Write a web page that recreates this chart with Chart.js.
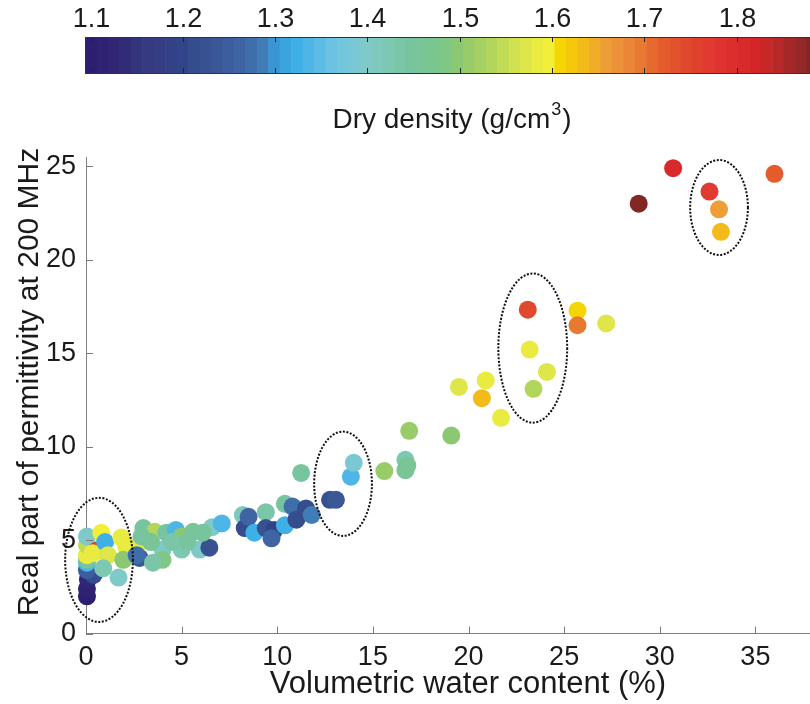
<!DOCTYPE html>
<html>
<head>
<meta charset="utf-8">
<script src="https://cdn.jsdelivr.net/npm/chart.js@4"></script>
<style>
  html, body { margin: 0; padding: 0; background: #fff; overflow: hidden; }
  #wrap { width: 860px; height: 704px; }
</style>
</head>
<body>
<div id="wrap"><canvas id="chart" width="860" height="704"></canvas></div>
<script>
// Permittivity vs water content, coloured by dry density

// volumetric water content (%)
const waterContent = [
  0.05, 0.05, 0.1, 0.4, 0.05, 0.05, 0.05, 0.05, 0.05, 0.05,
  0.55, 0.35, 0.8, 1.0, 1.15, 0.9, 1.7, 1.85, 2.1, 1.95, 2.65,
  2.8, 2.65, 3.0, 3.6, 4.0, 4.0, 3.5, 4.2, 4.7, 5.0,
  5.0, 5.6, 5.95, 6.6, 7.1, 6.45, 6.1, 3.4, 4.5, 5.3, 2.9,
  8.2, 8.3, 8.5, 8.8, 9.4, 9.4, 9.85, 9.7, 10.4, 10.8,
  10.4, 11.0, 11.5, 11.8, 11.25, 12.76, 13.07, 13.85, 14.0, 15.6,
  16.7, 16.8, 16.7, 16.9, 19.1, 19.5, 20.9, 20.7, 21.7, 23.1,
  23.2, 24.1, 23.4, 25.7, 25.7, 27.2, 28.9, 30.7, 32.6, 33.1,
  33.2, 36.0
];
// real part of permittivity at 200 MHz
const permittivity = [
  2.0, 2.4, 2.9, 3.15, 3.4, 3.8, 3.95, 4.2, 4.75, 5.2,
  4.45, 4.3, 5.4, 4.9, 4.2, 3.5, 3.0, 5.15, 4.65, 3.95, 4.65,
  4.05, 4.2, 5.65, 5.45, 4.5, 3.95, 3.8, 5.4, 5.55, 5.2,
  4.5, 5.45, 4.5, 5.7, 5.9, 4.6, 5.4, 4.9, 4.9, 4.9, 5.2,
  6.35, 5.65, 6.25, 5.4, 6.5, 5.65, 5.55, 5.1, 6.95, 6.8,
  5.8, 6.1, 6.7, 6.35, 8.6, 7.16, 7.16, 8.4, 9.14, 8.7,
  9.3, 9.0, 8.75, 10.85, 10.6, 13.2, 13.55, 12.6, 11.55, 17.33,
  15.2, 14.0, 13.1, 17.28, 16.5, 16.6, 23.0, 24.9, 23.65, 22.7,
  21.5, 24.6
];
// dry density (g/cm3)
const dryDensity = [
  1.10, 1.11, 1.12, 1.21, 1.25, 1.33, 1.45, 1.58, 1.55, 1.40,
  1.76, 1.585, 1.60, 1.32, 1.57, 1.42, 1.40, 1.59, 1.58, 1.50, 1.58,
  1.24, 1.28, 1.45, 1.53, 1.40, 1.49, 1.44, 1.45, 1.33, 1.50,
  1.42, 1.46, 1.40, 1.40, 1.33, 1.23, 1.45, 1.46, 1.43, 1.45, 1.45,
  1.41, 1.21, 1.26, 1.32, 1.44, 1.22, 1.19, 1.26, 1.45, 1.27,
  1.32, 1.21, 1.21, 1.29, 1.45, 1.23, 1.24, 1.34, 1.39, 1.51,
  1.42, 1.46, 1.46, 1.51, 1.50, 1.57, 1.585, 1.63, 1.59, 1.74,
  1.59, 1.57, 1.53, 1.61, 1.69, 1.57, 1.88, 1.81, 1.77, 1.66,
  1.63, 1.72
];

const xTicks = [0, 5, 10, 15, 20, 25, 30, 35];
const yTicks = [0, 5, 10, 15, 20, 25];
const densityTicks = [1.1, 1.2, 1.3, 1.4, 1.5, 1.6, 1.7, 1.8];

// colormap stops (dry density -> colour)
const cmapStops = [1.094, 1.13, 1.16, 1.2, 1.22, 1.25, 1.27, 1.29, 1.30, 1.32, 1.34, 1.36, 1.38, 1.4, 1.42,
  1.45, 1.48, 1.5, 1.52, 1.54, 1.56, 1.58, 1.598, 1.602, 1.62, 1.64, 1.66, 1.68, 1.7, 1.72, 1.75, 1.78,
  1.8, 1.82, 1.84, 1.86, 1.888];
const cmapColors = ['#2c1c70', '#312876', '#363a80', '#32458a', '#37508f', '#3c5d9e', '#3f6aa8', '#4080b8',
  '#3a98d6', '#3aaee4', '#52b8e8', '#6ac2e2', '#78c8d8', '#80c9c6', '#7ec8b4', '#78c49c', '#7cc68a',
  '#8cc870', '#a2d062', '#b8d858', '#d2e150', '#e6ea44', '#f3ef38', '#f6dc00', '#f5c90a', '#f2b520',
  '#ee9c38', '#ea8a38', '#e8742e', '#e45c2c', '#e0462e', '#e03432', '#dc2c2c', '#d42628', '#c02828',
  '#a02828', '#7b2626'];
const cmapBands = 64;

// dotted ellipses around groups (data units)
const ellipseX = [0.68, 13.44, 23.36, 33.1];
const ellipseY = [3.95, 8.02, 15.28, 22.8];
const ellipseRx = [1.77, 1.51, 1.80, 1.51];
const ellipseRy = [3.32, 2.79, 3.99, 2.54];

const FONT = "'Liberation Sans', Arial, Helvetica, sans-serif";
const cbMin = cmapStops[0], cbMax = cmapStops[cmapStops.length - 1];

function hexRgb(h) {
  return [parseInt(h.slice(1, 3), 16), parseInt(h.slice(3, 5), 16), parseInt(h.slice(5, 7), 16)];
}

function cmapAt(d) {
  if (d <= cmapStops[0]) return cmapColors[0];
  for (let i = 1; i < cmapStops.length; i++) {
    if (d <= cmapStops[i]) {
      const t = (d - cmapStops[i - 1]) / (cmapStops[i] - cmapStops[i - 1]);
      const a = hexRgb(cmapColors[i - 1]), b = hexRgb(cmapColors[i]);
      const c = a.map((v, k) => Math.round(v + (b[k] - v) * t));
      return `rgb(${c[0]},${c[1]},${c[2]})`;
    }
  }
  return cmapColors[cmapColors.length - 1];
}

// discrete colormap like the colorbar
function bandColor(d) {
  let i = Math.floor((d - cbMin) / (cbMax - cbMin) * cmapBands);
  i = Math.max(0, Math.min(cmapBands - 1, i));
  return cmapAt(cbMin + (i + 0.5) * (cbMax - cbMin) / cmapBands);
}

const points = waterContent.map((x, i) => ({ x, y: permittivity[i] }));
const colors = dryDensity.map(bandColor);

const decor = {
  id: 'decor',
  afterDatasetsDraw(chart) {
    const { ctx, chartArea: a, scales: { x, y } } = chart;
    ctx.save();
    // inward ticks
    ctx.strokeStyle = '#7a7a7a';
    ctx.lineWidth = 1;
    xTicks.forEach(v => {
      const px = Math.round(x.getPixelForValue(v)) + 0.5;
      ctx.beginPath(); ctx.moveTo(px, a.bottom); ctx.lineTo(px, a.bottom - 7); ctx.stroke();
    });
    yTicks.forEach(v => {
      const py = Math.round(y.getPixelForValue(v)) + 0.5;
      ctx.beginPath(); ctx.moveTo(a.left, py); ctx.lineTo(a.left + 7, py); ctx.stroke();
    });

    // dotted ellipses
    ctx.strokeStyle = '#111';
    ctx.lineWidth = 2;
    ctx.setLineDash([2, 1.6]);
    ellipseX.forEach((cx, i) => {
      const px = x.getPixelForValue(cx), py = y.getPixelForValue(ellipseY[i]);
      const rx = Math.abs(x.getPixelForValue(cx + ellipseRx[i]) - px);
      const ry = Math.abs(y.getPixelForValue(ellipseY[i] + ellipseRy[i]) - py);
      ctx.beginPath(); ctx.ellipse(px, py, rx, ry, 0, 0, Math.PI * 2); ctx.stroke();
    });
    ctx.setLineDash([]);

    // colorbar
    const cbLeft = a.left - 1, cbRight = 818, cbTop = 37, cbBottom = 73;
    const cbX = d => cbLeft + (d - cbMin) / (cbMax - cbMin) * (cbRight - cbLeft);
    const bw = (cbRight - cbLeft) / cmapBands;
    for (let i = 0; i < cmapBands; i++) {
      ctx.fillStyle = cmapAt(cbMin + (i + 0.5) * (cbMax - cbMin) / cmapBands);
      ctx.fillRect(cbLeft + i * bw, cbTop, bw + 0.6, cbBottom - cbTop);
    }
    ctx.strokeStyle = '#333';
    ctx.lineWidth = 1;
    ctx.strokeRect(cbLeft + 0.5, cbTop + 0.5, cbRight - cbLeft, cbBottom - cbTop);
    ctx.strokeStyle = '#222';
    ctx.fillStyle = '#1a1a1a';
    ctx.font = `27px ${FONT}`;
    ctx.textAlign = 'center';
    ctx.textBaseline = 'middle';
    densityTicks.forEach(d => {
      const px = Math.round(cbX(d)) + 0.5;
      ctx.beginPath();
      ctx.moveTo(px, cbTop); ctx.lineTo(px, cbTop + 5);
      ctx.moveTo(px, cbBottom); ctx.lineTo(px, cbBottom - 5);
      ctx.stroke();
      ctx.fillText(d.toFixed(1), px, 20);
    });

    // colorbar title with superscript
    const big = `28px ${FONT}`, small = `18px ${FONT}`;
    const t1 = 'Dry density (g/cm', t2 = '3', t3 = ')';
    ctx.font = big; const w1 = ctx.measureText(t1).width, w3 = ctx.measureText(t3).width;
    ctx.font = small; const w2 = ctx.measureText(t2).width;
    let tx = 451 - (w1 + w2 + w3) / 2;
    ctx.textAlign = 'left';
    ctx.textBaseline = 'alphabetic';
    ctx.font = big; ctx.fillText(t1, tx, 128); tx += w1;
    ctx.font = small; ctx.fillText(t2, tx + 1, 115); tx += w2 + 2;
    ctx.font = big; ctx.fillText(t3, tx, 128);

    // axis titles
    ctx.textAlign = 'center';
    ctx.textBaseline = 'middle';
    ctx.font = `31px ${FONT}`;
    ctx.fillText('Volumetric water content (%)', 468, 684);
    ctx.font = `30px ${FONT}`;
    ctx.translate(30, 382);
    ctx.rotate(-Math.PI / 2);
    ctx.fillText('Real part of permittivity at 200 MHz', 0, 0);
    ctx.restore();
  }
};

new Chart(document.getElementById('chart'), {
  type: 'scatter',
  data: {
    datasets: [{
      data: points,
      backgroundColor: colors,
      borderWidth: 0,
      pointRadius: 9,
      pointHoverRadius: 9,
      clip: false
    }]
  },
  options: {
    responsive: false,
    animation: false,
    events: [],
    layout: { padding: { top: 157, right: 6, left: 0, bottom: 0 } },
    plugins: { legend: { display: false }, tooltip: { enabled: false } },
    scales: {
      x: {
        type: 'linear', min: 0, max: 40,
        grid: { display: false, drawTicks: false },
        border: { display: true, color: '#808080', width: 1 },
        ticks: { stepSize: 5, includeBounds: false, padding: 8, color: '#1a1a1a', font: { size: 27, family: FONT },
          callback: v => (v <= 35 ? v : '') },
        afterFit: s => { s.height = 70.3; s.paddingLeft = 0; s.paddingRight = 0; }
      },
      y: {
        type: 'linear', min: 0, max: 25.5,
        grid: { display: false, drawTicks: false },
        border: { display: true, color: '#808080', width: 1 },
        ticks: { stepSize: 5, includeBounds: false, padding: 10, color: '#1a1a1a', font: { size: 27, family: FONT } },
        afterFit: s => { s.width = 86; s.paddingTop = 0; s.paddingBottom = 0; }
      }
    }
  },
  plugins: [decor]
});
</script>
</body>
</html>
